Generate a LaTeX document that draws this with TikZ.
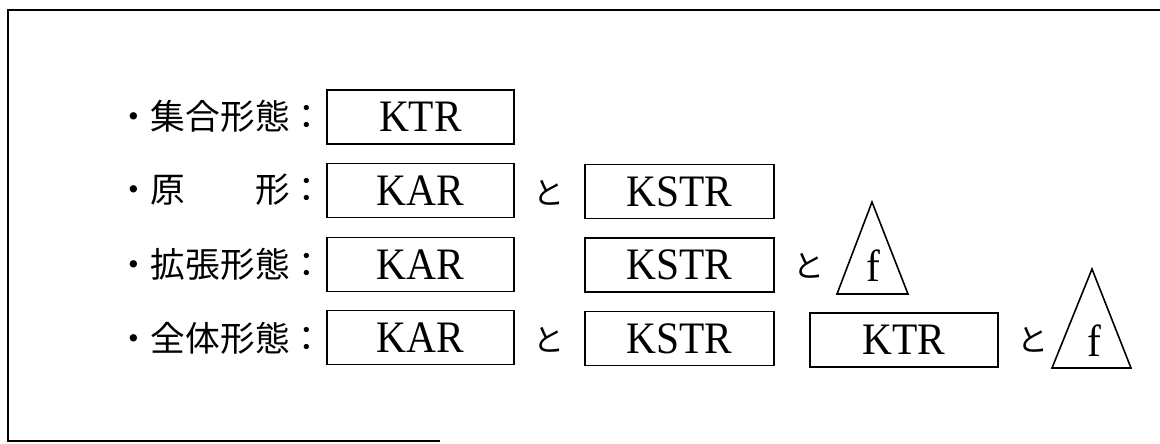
\documentclass[tikz,border=0pt]{standalone}
\usepackage{fontspec}
\newfontfamily\lat[FakeStretch=0.92]{Liberation Serif}
\newfontfamily\jp{Noto Sans CJK JP}
\tikzset{
  box/.style={draw, line width=1.3pt, rectangle, inner sep=0pt, minimum height=54pt, font=\lat\fontsize{45}{50}\selectfont},
  lbl/.style={anchor=west, inner sep=0pt, font=\jp\fontsize{34.7}{40}\selectfont},
  to/.style={inner sep=0pt, font=\jp\fontsize{31}{36}\selectfont},
  fl/.style={inner sep=0pt, font=\lat\fontsize{45}{50}\selectfont},
  tri/.style={draw, line width=1.6pt, line join=miter},
  frame/.style={line width=1.4pt}
}
\begin{document}
\begin{tikzpicture}[x=1pt,y=-1pt]
\useasboundingbox (0,0) rectangle (1160,444);
% frame
\coordinate (tl) at (8,10);
\coordinate (tr) at (1160,10);
\coordinate (bl) at (8,441);
\coordinate (br) at (440,441);
\draw[frame] (tr) -- (tl) -- (bl) -- (br);
% row 1
\node[lbl] (l1) at (116,116) {・集合形態：};
\node[box, minimum width=187pt] (r1a) at (420.5,117) {KTR};
% row 2
\node[lbl] (l2) at (116,190) {・原　　形：};
\node[box, minimum width=187pt] (r2a) at (420.5,190.5) {KAR};
\node[to] (r2t) at (549,193) {と};
\node[box, minimum width=189pt] (r2b) at (679.5,191.5) {KSTR};
% row 3
\node[lbl] (l3) at (116,264) {・拡張形態：};
\node[box, minimum width=187pt] (r3a) at (420.5,264.5) {KAR};
\node[box, minimum width=189pt] (r3b) at (679.5,265) {KSTR};
\node[to] (r3t) at (809,266) {と};
\coordinate (t3a) at (872,202);
\coordinate (t3l) at (837,294);
\coordinate (t3r) at (908,294);
\draw[tri] (t3a) -- (t3r) -- (t3l) -- cycle;
\node[fl] (f3) at (873,266) {f};
% row 4
\node[lbl] (l4) at (116,338) {・全体形態：};
\node[box, minimum width=187pt] (r4a) at (420.5,337.5) {KAR};
\node[to] (r4t) at (549,340) {と};
\node[box, minimum width=189pt] (r4b) at (679.5,338.5) {KSTR};
\node[box, minimum width=188pt] (r4c) at (904,340) {KTR};
\node[to] (r4u) at (1033,340) {と};
\coordinate (t4a) at (1092,269);
\coordinate (t4l) at (1052,368);
\coordinate (t4r) at (1131,368);
\draw[tri] (t4a) -- (t4r) -- (t4l) -- cycle;
\node[fl] (f4) at (1094,341) {f};
\end{tikzpicture}
\end{document}
